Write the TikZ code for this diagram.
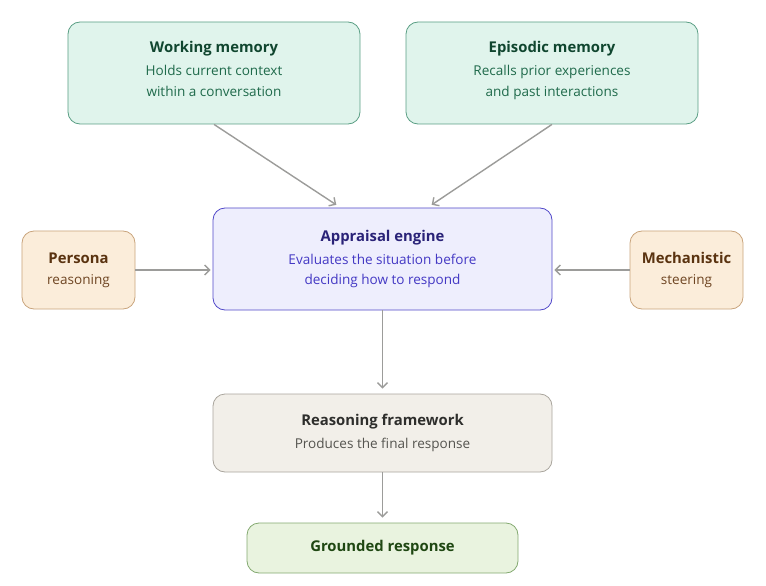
\documentclass[tikz,border=0pt]{standalone}
\usepackage{fontspec}
\setmainfont{Open Sans}
\usepackage{xcolor}
\definecolor{memfill}{HTML}{E0F4EC}
\definecolor{memline}{HTML}{5A9E84}
\definecolor{memhead}{HTML}{10462F}
\definecolor{memsub}{HTML}{1F6A4B}
\definecolor{apfill}{HTML}{EEEEFD}
\definecolor{apline}{HTML}{5148C9}
\definecolor{aphead}{HTML}{2A2378}
\definecolor{apsub}{HTML}{4338C4}
\definecolor{sidefill}{HTML}{FBEDDA}
\definecolor{sideline}{HTML}{C9A47C}
\definecolor{sidehead}{HTML}{5A3310}
\definecolor{sidesub}{HTML}{6E4522}
\definecolor{rfill}{HTML}{F2EFE9}
\definecolor{rline}{HTML}{A9A59D}
\definecolor{rhead}{HTML}{2E2E2C}
\definecolor{rsub}{HTML}{55544F}
\definecolor{gfill}{HTML}{E9F3DF}
\definecolor{gline}{HTML}{83A970}
\definecolor{ghead}{HTML}{1F4712}
\definecolor{wire}{HTML}{9C9C9A}
\usetikzlibrary{arrows.meta,positioning,calc}
\tikzset{card/.style={rounded corners=12bp,line width=0.8bp,align=center,inner sep=0pt,font=\fontsize{13.6}{21}\selectfont},
mem/.style={card,draw=memline,fill=memfill,text=memsub,minimum width=292bp,minimum height=102bp},
core/.style={card,draw=apline,fill=apfill,text=apsub,minimum width=339bp,minimum height=102bp},
side/.style={card,draw=sideline,fill=sidefill,text=sidesub,minimum width=113bp,minimum height=78bp},
frame/.style={card,draw=rline,fill=rfill,text=rsub,minimum width=339bp,minimum height=78bp},
result/.style={card,draw=gline,fill=gfill,text=ghead,minimum width=271bp,minimum height=50bp},
wire/.style={-{Straight Barb[length=5bp,width=10bp]},draw=wire,line width=1.4bp}}
\newcommand{\ttl}[2]{{\fontsize{14.9}{18}\selectfont\bfseries\color{#1}#2}}

\begin{document}
\begin{tikzpicture}[x=1bp,y=-1bp]
\useasboundingbox (0,0) rectangle (766,586);
\node[mem] (wm) at (214,73) {\ttl{memhead}{Working memory}\\[2bp]Holds current context\\within a conversation\\[-12bp]\rule{0pt}{0pt}};
\node[mem] (ep) at (552,73) {\ttl{memhead}{Episodic memory}\\[2bp]Recalls prior experiences\\and past interactions\\[-12bp]\rule{0pt}{0pt}};
\node[core] (ae) at (382.5,259) {\ttl{aphead}{Appraisal engine}\\[2bp]Evaluates the situation before\\deciding how to respond};
\node[side] (pr) at (78.5,270) {\ttl{sidehead}{Persona}\\reasoning};
\node[side] (ms) at (686.5,270) {\ttl{sidehead}{Mechanistic}\\steering};
\node[frame] (rf) at (382.5,433) {\ttl{rhead}{Reasoning framework}\\[2bp]Produces the final response};
\node[result] (gr) at (382.5,548) {\ttl{ghead}{Grounded response}};
\draw[wire,shorten >=5bp] (wm.south) -- ($(ae.north)+(-42,0)$);
\draw[wire,shorten >=5bp] (ep.south) -- ($(ae.north)+(45,0)$);
\draw[wire,shorten >=2bp] (pr.east) -- (pr.east -| ae.west);
\draw[wire,shorten >=2bp] (ms.west) -- (ms.west -| ae.east);
\draw[wire,shorten >=5bp] (ae.south) -- (rf.north);
\draw[wire,shorten >=5bp] (rf.south) -- (gr.north);
\end{tikzpicture}
\end{document}
